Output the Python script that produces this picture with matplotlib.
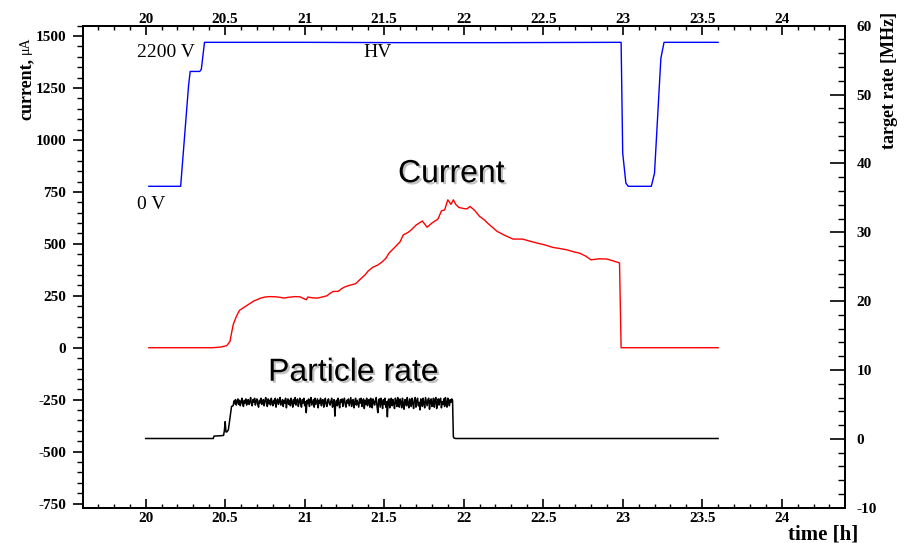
import numpy as np
import matplotlib
matplotlib.use("Agg")
import matplotlib.pyplot as plt
from matplotlib.ticker import MultipleLocator
import matplotlib.patheffects as pe

plt.rcParams['axes.unicode_minus'] = False

# ---------------- data ----------------
# High voltage (V) vs time (h)
hv_time = [20.02, 20.22, 20.27, 20.28, 20.34, 20.35, 20.37, 21.0, 21.6, 22.2, 22.98,
           22.99, 23.00, 23.02, 23.035, 23.18, 23.20, 23.24, 23.26, 23.60]
hv_volt = [0, 0, 1546, 1755, 1755, 1787, 2200, 2200, 2195, 2195, 2200,
           2200, 508, 48, 0, 0, 200, 1956, 2200, 2200]

# Current (uA) vs time (h)
cur_time = [20.02, 20.42, 20.47, 20.51, 20.53, 20.55, 20.57, 20.59, 20.61, 20.63, 20.66,
            20.68, 20.70, 20.72, 20.75, 20.78, 20.82, 20.85, 20.87, 20.90, 20.94, 20.97,
            21.01, 21.02, 21.05, 21.08, 21.11, 21.14, 21.16, 21.18, 21.21, 21.23, 21.25,
            21.28, 21.32, 21.35, 21.38, 21.40, 21.43, 21.46, 21.49, 21.51, 21.53, 21.57,
            21.60, 21.62, 21.65, 21.67, 21.70, 21.72, 21.74, 21.77, 21.80, 21.83, 21.84,
            21.86, 21.88, 21.90, 21.92, 21.935, 21.95, 21.97, 22.00, 22.02, 22.04, 22.07,
            22.10, 22.13, 22.15, 22.18, 22.21, 22.26, 22.31, 22.37, 22.42, 22.46, 22.51,
            22.56, 22.60, 22.65, 22.69, 22.73, 22.77, 22.80, 22.85, 22.90, 22.94, 22.98,
            22.99, 23.60]
cur_uA = [0, 0, 3, 10, 30, 110, 150, 180, 190, 200, 215,
          225, 231, 238, 244, 246, 245, 242, 239, 243, 246, 245,
          231, 244, 240, 239, 244, 250, 262, 271, 271, 283, 292,
          300, 308, 330, 351, 370, 388, 398, 415, 430, 455, 486,
          510, 543, 555, 567, 590, 600, 610, 580, 600, 615, 622,
          659, 663, 712, 690, 712, 690, 675, 670, 668, 680, 660,
          632, 615, 600, 580, 560, 540, 523, 523, 512, 504, 495,
          483, 478, 471, 462, 455, 440, 423, 428, 427, 418, 408,
          0, 0]

# Particle rate (MHz) vs time (h)
rate_pre_time = [20.00, 20.425, 20.43, 20.47, 20.49, 20.495, 20.50, 20.505, 20.51, 20.52,
                 20.53, 20.54]
rate_pre = [0.05, 0.05, 0.4, 0.45, 0.5, 1.2, 2.5, 1.0, 1.0, 1.3, 3.0, 4.7]
rate_plateau = [
    4.8, 5.5, 5.1, 5.7, 4.9, 5.4, 5.8, 5.0, 5.6, 4.8,
    5.3, 5.9, 5.1, 4.7, 5.6, 5.2, 5.8, 4.9, 5.5, 5.7,
    5.0, 5.4, 6.0, 5.1, 4.8, 5.7, 5.3, 5.9, 4.9, 5.5,
    5.8, 5.0, 4.6, 5.6, 5.2, 5.9, 5.0, 5.4, 5.7, 4.8,
    5.5, 6.0, 5.2, 4.7, 5.8, 5.1, 5.6, 4.9, 5.9, 5.3,
    4.8, 5.6, 5.1, 5.9, 4.6, 5.5, 5.8, 5.0, 5.4, 6.0,
    4.9, 5.3, 5.7, 4.7, 5.6, 5.2, 5.9, 4.5, 5.4, 5.8,
    5.0, 5.6, 4.8, 5.9, 5.3, 4.6, 5.7, 5.1, 6.0, 4.9,
    5.5, 5.8, 4.7, 5.4, 5.9, 5.0, 4.6, 5.7, 5.2, 5.9,
    4.8, 5.4, 3.8, 5.6, 5.1, 5.8, 4.7, 5.5, 6.0, 4.9,
    5.3, 5.7, 4.6, 5.9, 5.0, 5.4, 5.8, 4.5, 5.6, 5.2,
    5.9, 4.8, 5.5, 5.7, 4.6, 5.3, 5.9, 5.0, 4.7, 5.6,
    5.8, 5.1, 4.9, 5.5, 5.9, 4.6, 5.4, 5.7, 3.3, 5.2,
    5.6, 4.8, 5.9, 5.1, 4.5, 5.7, 5.3, 5.8, 4.7, 5.5,
    5.9, 5.0, 4.6, 5.6, 5.2, 5.8, 4.8, 5.4, 6.0, 4.7,
    5.5, 5.7, 4.5, 5.3, 5.9, 4.9, 5.6, 5.1, 4.6, 5.8,
    5.2, 5.9, 4.7, 5.5, 5.8, 4.4, 5.6, 5.0, 5.9, 4.8,
    5.4, 5.7, 4.6, 5.9, 5.1, 4.5, 5.8, 5.3, 4.9, 5.6,
    6.0, 4.7, 3.8, 5.5, 5.8, 4.6, 5.9, 5.2, 4.4, 5.7,
    5.0, 5.9, 4.6, 5.4, 3.2, 5.6, 5.8, 4.5, 5.3, 5.9,
    4.8, 5.7, 5.1, 4.4, 5.9, 5.5, 4.7, 6.0, 5.2, 4.6,
    5.8, 5.3, 4.5, 5.9, 5.0, 4.3, 5.7, 5.6, 4.8, 6.0,
    5.1, 4.5, 5.8, 5.4, 4.7, 5.9, 5.2, 4.4, 5.7, 6.0,
    4.6, 5.5, 5.9, 4.8, 5.3, 4.2, 5.8, 5.6, 4.7, 5.9,
    5.1, 4.5, 6.0, 5.4, 4.8, 5.7, 5.9, 4.3, 5.5, 5.8,
    4.7, 5.2, 5.9, 4.6, 5.6, 6.0, 4.4, 5.3, 5.8, 4.9,
    5.7, 5.9, 4.5, 5.4, 5.0, 5.8, 4.7, 6.0, 5.2, 4.6,
    5.9, 5.5, 4.8, 5.7, 5.3, 5.8, 5.6]
rate_plateau_start, rate_plateau_end = 20.55, 21.93
rate_post_time = [21.935, 21.94, 21.95, 23.60]
rate_post = [0.3, 0.1, 0.05, 0.05]

x_ticks = [20, 20.5, 21, 21.5, 22, 22.5, 23, 23.5, 24]
x_ticklabels = ["20", "20.5", "21", "21.5", "22", "22.5", "23", "23.5", "24"]
left_ticks = [1500, 1250, 1000, 750, 500, 250, 0, -250, -500, -750]
right_ticks = [-10, 0, 10, 20, 30, 40, 50, 60]

# ---------------- figure ----------------
W, H = 906, 543
fig = plt.figure(figsize=(W / 100, H / 100), dpi=100)
ax = fig.add_axes([82.7 / W, 1 - 507.7 / H, (845 - 82.7) / W, (507.7 - 25.7) / H])

XLIM = (19.604, 24.398)
LEFT_LIM = (-770, 1550)
RIGHT_LIM = (-10, 60)
ax.set_xlim(*XLIM)
ax.set_ylim(*LEFT_LIM)

serif = "Liberation Serif"
sans = "Liberation Sans"
TICK_FS = 11


def style_labels(labels):
    for lab in labels:
        lab.set_fontfamily(serif)
        lab.set_fontweight("bold")
        lab.set_fontsize(TICK_FS)


for s in ax.spines.values():
    s.set_linewidth(1.4)

# bottom axis
ax.set_xticks(x_ticks)
ax.set_xticklabels(x_ticklabels)
ax.xaxis.set_minor_locator(MultipleLocator(0.1))
ax.tick_params(axis="x", which="major", direction="in", length=6.5, width=1.2,
               top=False, bottom=True, pad=2.8)
ax.tick_params(axis="x", which="minor", direction="in", length=3, width=1.0, top=False, bottom=True)

# left axis
ax.set_yticks(left_ticks)
ax.set_yticklabels([str(v) for v in left_ticks])
ax.yaxis.set_minor_locator(MultipleLocator(50))
ax.tick_params(axis="y", which="major", direction="out", length=7.2, width=1.2, pad=4.5, right=False)
ax.tick_params(axis="y", which="minor", direction="out", length=4.1, width=1.0, right=False)

# top axis
axt = ax.twiny()
axt.set_xlim(*XLIM)
axt.set_xticks(x_ticks)
axt.set_xticklabels(x_ticklabels)
axt.xaxis.set_minor_locator(MultipleLocator(0.1))
axt.tick_params(axis="x", which="major", direction="in", length=6.5, width=1.2, pad=0.0)
axt.tick_params(axis="x", which="minor", direction="in", length=3, width=1.0)

# right axis (rate)
axr = ax.twinx()
axr.set_ylim(*RIGHT_LIM)
axr.set_yticks(right_ticks)
axr.set_yticklabels([str(v) for v in right_ticks])
axr.yaxis.set_minor_locator(MultipleLocator(2))
axr.tick_params(axis="y", which="major", direction="in", length=10.8, width=1.2, pad=8.4)
axr.tick_params(axis="y", which="minor", direction="in", length=5.0, width=1.0)
for a in (axt, axr):
    for s in a.spines.values():
        s.set_linewidth(1.4)

style_labels(ax.get_xticklabels() + ax.get_yticklabels()
             + axt.get_xticklabels() + axr.get_yticklabels())

# hidden HV axis: 0 V drawn at the 777 uA level, 2200 V at the 1470 uA level
axh = ax.twinx()
HV_ZERO_LEVEL, HV_FULL_LEVEL, HV_FULL = 777.0, 1470.0, 2200.0
f0 = (HV_ZERO_LEVEL - LEFT_LIM[0]) / (LEFT_LIM[1] - LEFT_LIM[0])
f1 = (HV_FULL_LEVEL - LEFT_LIM[0]) / (LEFT_LIM[1] - LEFT_LIM[0])
span = HV_FULL / (f1 - f0)
axh.set_ylim(-f0 * span, -f0 * span + span)
axh.set_axis_off()

# curves
axh.plot(hv_time, hv_volt, color="#0000ff", lw=1.0)
ax.plot(cur_time, cur_uA, color="#ff0000", lw=1.0)
plat_t = np.linspace(rate_plateau_start, rate_plateau_end, len(rate_plateau))
rate_t = np.concatenate([rate_pre_time, plat_t, rate_post_time])
rate_v = np.concatenate([rate_pre, rate_plateau, rate_post])
axr.plot(rate_t, rate_v, color="black", lw=1.1)

# annotations
ax.text(19.945, 1400, "2200 V", family=serif, fontsize=14, ha="left", va="baseline")
ax.text(19.945, 668, "0 V", family=serif, fontsize=14, ha="left", va="baseline")
ax.text(21.367, 1400, "HV", family=serif, fontsize=14, ha="left", va="baseline")
shadow = [pe.withSimplePatchShadow(offset=(1.5, -1.5), shadow_rgbFace="0.6", alpha=0.6)]
ax.text(21.587, 797, "Current", family=sans, fontsize=23, ha="left", va="baseline",
        path_effects=shadow)
ax.text(20.77, -159, "Particle rate", family=sans, fontsize=23, ha="left", va="baseline",
        path_effects=shadow)

# axis titles
fig.text(26 / W, 1 - 120 / H, "current,", family=serif, weight="bold", fontsize=13,
         rotation=90, ha="center", va="bottom")
fig.text(25 / W, 1 - 54 / H, "\u03bcA", family=serif, fontsize=10,
         rotation=90, ha="center", va="bottom")
fig.text(890 / W, 1 - 80 / H, "target rate [MHz]", family=serif, weight="bold", fontsize=13,
         rotation=90, ha="center", va="center")
fig.text(858 / W, 1 - 539 / H, "time [h]", family=serif, weight="bold", fontsize=15,
         ha="right", va="baseline")

fig.savefig("out.png", dpi=100)
